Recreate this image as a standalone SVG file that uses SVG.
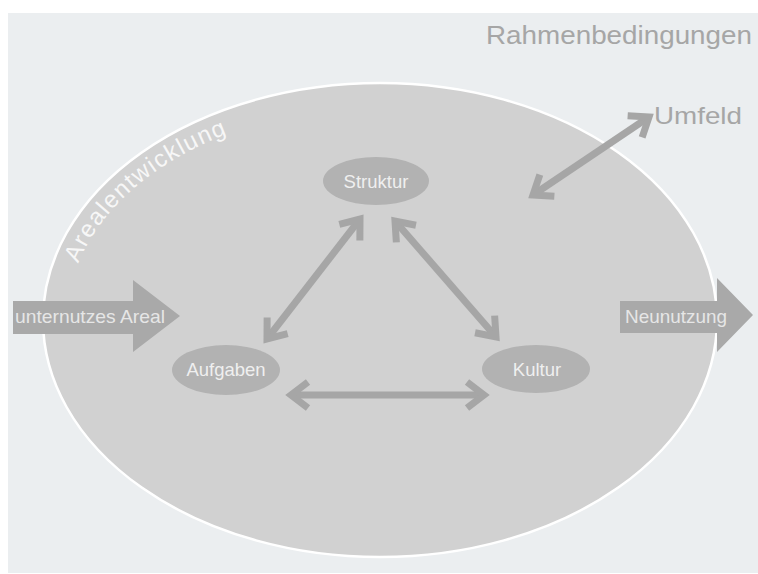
<svg xmlns="http://www.w3.org/2000/svg" width="758" height="574" viewBox="0 0 758 574">
<style>
.lbl{font-family:"Liberation Sans",Arial,sans-serif;}
.node ellipse{fill:#b2b2b2;}
.node text{fill:#efefef;font-size:18.5px;text-anchor:middle;}
.con{stroke:#a6a6a6;stroke-width:7;fill:none;}
.big{fill:#a9a9a9;}
.bigtxt{fill:#e6e6e6;font-size:19px;}
.outer{fill:#a6a6a6;}
</style>
<defs>
<marker id="hd" markerUnits="userSpaceOnUse" markerWidth="40" markerHeight="40" refX="0" refY="0" orient="auto-start-reverse" overflow="visible" viewBox="-30 -20 40 40">
<path d="M -17,-13 L 0,0 L -17,13" fill="none" stroke="#a6a6a6" stroke-width="7" stroke-linejoin="miter"/>
</marker>
<path id="arc" d="M 67 320 A 313 213 0 0 1 693 320"/>
</defs>
<rect x="8" y="13" width="750" height="560" fill="#ebeef0"/>
<g id="arealentwicklung">
<ellipse cx="380" cy="320" rx="337" ry="237" fill="#d1d1d1" stroke="#ffffff" stroke-width="2.5"/>
<text class="lbl" font-size="24" fill="#f7f7f7" letter-spacing="1.4"><textPath href="#arc" startOffset="58">Arealentwicklung</textPath></text>
</g>
<g id="rahmenbedingungen">
<text class="lbl outer" x="486" y="44" font-size="25" textLength="266" lengthAdjust="spacingAndGlyphs">Rahmenbedingungen</text>
</g>
<g id="umfeld">
<text class="lbl outer" x="654" y="124" font-size="24" textLength="88" lengthAdjust="spacingAndGlyphs">Umfeld</text>
</g>
<g id="unternutzes-areal">
<path class="big" d="M 13 301 L 133 301 L 133 280 L 180 316 L 133 352 L 133 334 L 13 334 Z"/>
<text class="lbl bigtxt" x="15" y="323" textLength="150" lengthAdjust="spacingAndGlyphs">unternutzes Areal</text>
</g>
<g id="neunutzung">
<path class="big" d="M 620 301 L 717 301 L 717 278 L 753 315 L 717 352 L 717 333 L 620 333 Z"/>
<text class="lbl bigtxt" x="625" y="323" textLength="102" lengthAdjust="spacingAndGlyphs">Neunutzung</text>
</g>
<g id="connectors">
<line class="con" x1="360" y1="219" x2="267" y2="339" marker-start="url(#hd)" marker-end="url(#hd)"/>
<line class="con" x1="395" y1="221" x2="496" y2="337" marker-start="url(#hd)" marker-end="url(#hd)"/>
<line class="con" x1="291" y1="395" x2="484" y2="395" marker-start="url(#hd)" marker-end="url(#hd)"/>
<line class="con" x1="533" y1="195" x2="649" y2="117" marker-start="url(#hd)" marker-end="url(#hd)"/>
</g>
<g id="struktur" class="node">
<ellipse cx="376" cy="181" rx="53" ry="24"/>
<text class="lbl" x="376" y="188">Struktur</text>
</g>
<g id="aufgaben" class="node">
<ellipse cx="226" cy="370" rx="54" ry="25"/>
<text class="lbl" x="226" y="376">Aufgaben</text>
</g>
<g id="kultur" class="node">
<ellipse cx="536" cy="369" rx="54" ry="24"/>
<text class="lbl" x="537" y="376">Kultur</text>
</g>
</svg>
